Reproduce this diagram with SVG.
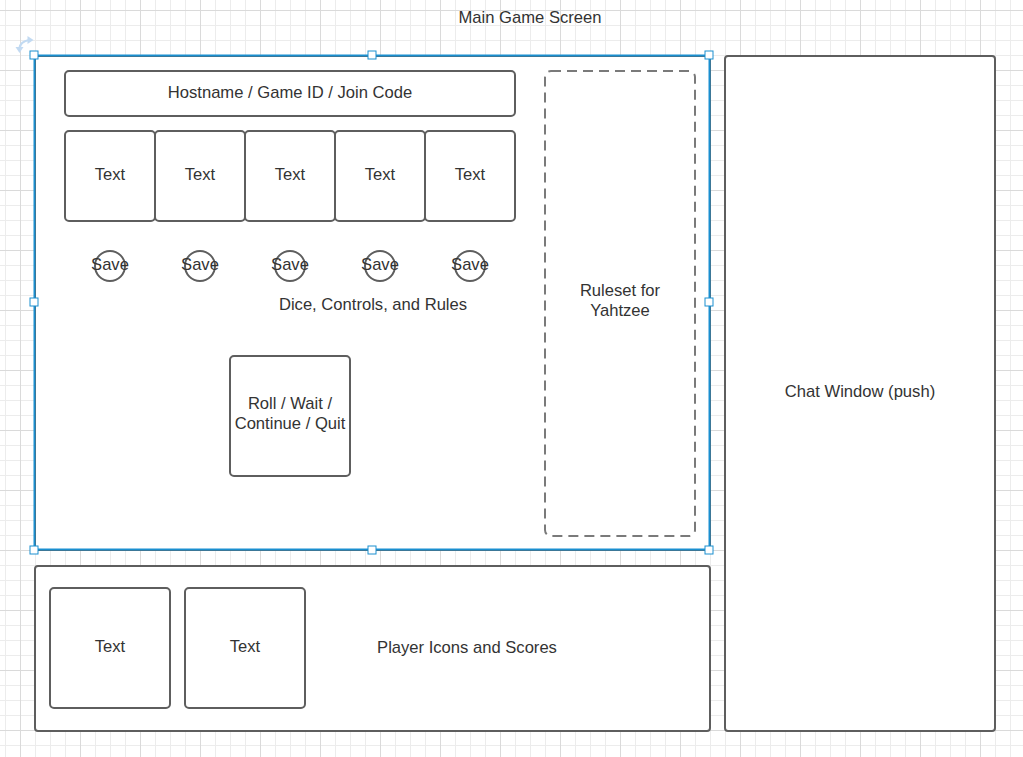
<svg xmlns="http://www.w3.org/2000/svg" width="1023" height="757" viewBox="0 0 1023 757">
<defs>
<pattern id="minor" width="15" height="15" patternUnits="userSpaceOnUse" x="20" y="10">
<path d="M0 0.5 H15 M0.5 0 V15" fill="none" stroke="#ececec" stroke-width="1"/>
</pattern>
<pattern id="major" width="60" height="60" patternUnits="userSpaceOnUse" x="20" y="10">
<path d="M0 0.5 H60 M0.5 0 V60" fill="none" stroke="#dadada" stroke-width="1"/>
</pattern>
</defs>
<style>
.box{fill:#ffffff;stroke:#5e5e5e;stroke-width:2}
.dash{fill:#ffffff;stroke:#7a7a7a;stroke-width:2;stroke-dasharray:10,6}
.t{font-family:"Liberation Sans",Arial,sans-serif;font-size:16.6px;fill:#333333;text-anchor:middle;dominant-baseline:central}
.h{fill:#ffffff;stroke:#1a8fd0;stroke-width:1}
</style>
<rect width="1023" height="757" fill="#ffffff"/>
<rect width="1023" height="757" fill="url(#minor)"/>
<rect width="1023" height="757" fill="url(#major)"/>

<g id="title"><text class="t" x="530" y="17">Main Game Screen</text></g>

<g id="main-panel">
<rect class="box" x="35" y="56" width="675" height="494" rx="3"/>
<text class="t" x="373" y="304">Dice, Controls, and Rules</text>
</g>

<g id="hostname">
<rect class="box" x="65" y="71" width="450" height="45" rx="4"/>
<text class="t" x="290" y="92">Hostname / Game ID / Join Code</text>
</g>

<g id="die1"><rect class="box" x="65" y="131" width="90" height="90" rx="4"/><text class="t" x="110" y="174">Text</text></g>
<g id="die2"><rect class="box" x="155" y="131" width="90" height="90" rx="4"/><text class="t" x="200" y="174">Text</text></g>
<g id="die3"><rect class="box" x="245" y="131" width="90" height="90" rx="4"/><text class="t" x="290" y="174">Text</text></g>
<g id="die4"><rect class="box" x="335" y="131" width="90" height="90" rx="4"/><text class="t" x="380" y="174">Text</text></g>
<g id="die5"><rect class="box" x="425" y="131" width="90" height="90" rx="4"/><text class="t" x="470" y="174">Text</text></g>

<g id="save1"><circle class="box" cx="110" cy="266" r="15"/><text class="t" x="110" y="264">Save</text></g>
<g id="save2"><circle class="box" cx="200" cy="266" r="15"/><text class="t" x="200" y="264">Save</text></g>
<g id="save3"><circle class="box" cx="290" cy="266" r="15"/><text class="t" x="290" y="264">Save</text></g>
<g id="save4"><circle class="box" cx="380" cy="266" r="15"/><text class="t" x="380" y="264">Save</text></g>
<g id="save5"><circle class="box" cx="470" cy="266" r="15"/><text class="t" x="470" y="264">Save</text></g>

<g id="roll">
<rect class="box" x="230" y="356" width="120" height="120" rx="4"/>
<text class="t" x="290" y="403">Roll / Wait /</text>
<text class="t" x="290" y="423">Continue / Quit</text>
</g>

<g id="ruleset">
<rect class="dash" x="545" y="71" width="150" height="465" rx="6"/>
<text class="t" x="620" y="290">Ruleset for</text>
<text class="t" x="620" y="310">Yahtzee</text>
</g>

<g id="chat">
<rect class="box" x="725" y="56" width="270" height="675" rx="3"/>
<text class="t" x="860" y="391">Chat Window (push)</text>
</g>

<g id="players">
<rect class="box" x="35" y="566" width="675" height="165" rx="3"/>
<text class="t" x="467" y="647">Player Icons and Scores</text>
</g>
<g id="player1"><rect class="box" x="50" y="588" width="120" height="120" rx="4"/><text class="t" x="110" y="646">Text</text></g>
<g id="player2"><rect class="box" x="185" y="588" width="120" height="120" rx="4"/><text class="t" x="245" y="646">Text</text></g>

<g id="connectors"></g>

<g id="selection">
<rect x="34.5" y="55.5" width="675" height="494" fill="none" stroke="#1a8fd0" stroke-width="2"/>
<rect class="h" x="30" y="51" width="8" height="8"/>
<rect class="h" x="368" y="51" width="8" height="8"/>
<rect class="h" x="705" y="51" width="8" height="8"/>
<rect class="h" x="30" y="298" width="8" height="8"/>
<rect class="h" x="705" y="298" width="8" height="8"/>
<rect class="h" x="30" y="546" width="8" height="8"/>
<rect class="h" x="368" y="546" width="8" height="8"/>
<rect class="h" x="705" y="546" width="8" height="8"/>
<path d="M19.5 48 Q20.5 41.5 29 40" fill="none" stroke="#c2daf2" stroke-width="2.2"/>
<path d="M27.5 36 L33.5 40 L27.5 44 Z" fill="#c2daf2"/>
<path d="M15.5 47 L19.5 53 L23.5 47 Z" fill="#c2daf2"/>
</g>
</svg>
